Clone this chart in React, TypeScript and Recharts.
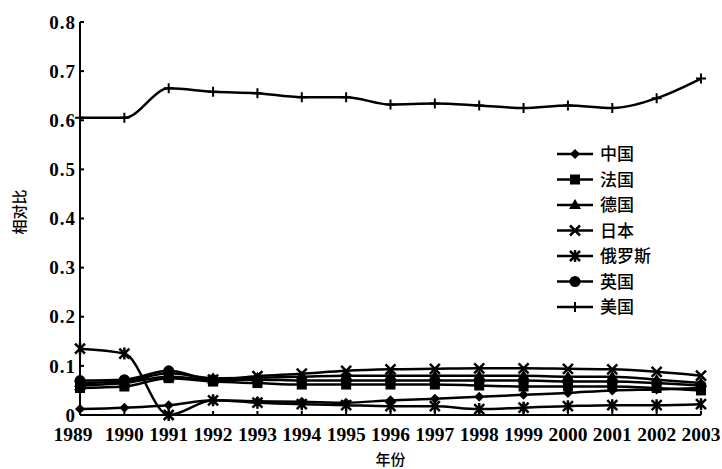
import React from "react";
import { LineChart, Line, XAxis, YAxis } from "recharts";

const years = ["1989", "1990", "1991", "1992", "1993", "1994", "1995", "1996", "1997", "1998", "1999", "2000", "2001", "2002", "2003"];

const china = [0.012, 0.015, 0.02, 0.03, 0.028, 0.027, 0.025, 0.03, 0.033, 0.037, 0.041, 0.045, 0.05, 0.052, 0.055];
const france = [0.055, 0.058, 0.075, 0.068, 0.065, 0.062, 0.062, 0.062, 0.062, 0.06, 0.058, 0.058, 0.058, 0.055, 0.05];
const germany = [0.065, 0.068, 0.085, 0.075, 0.076, 0.078, 0.08, 0.08, 0.08, 0.08, 0.08, 0.078, 0.078, 0.072, 0.065];
const japan = [0.06, 0.065, 0.078, 0.072, 0.079, 0.084, 0.09, 0.093, 0.094, 0.095, 0.095, 0.094, 0.093, 0.088, 0.08];
const russia = [0.135, 0.125, 0, 0.03, 0.025, 0.022, 0.02, 0.018, 0.018, 0.012, 0.015, 0.018, 0.02, 0.02, 0.022];
const uk = [0.07, 0.072, 0.09, 0.072, 0.072, 0.07, 0.07, 0.07, 0.07, 0.07, 0.07, 0.068, 0.068, 0.065, 0.06];
const usa = [0.605, 0.605, 0.665, 0.658, 0.655, 0.647, 0.647, 0.632, 0.634, 0.63, 0.625, 0.63, 0.625, 0.645, 0.685];

const yTicks = [0, 0.1, 0.2, 0.3, 0.4, 0.5, 0.6, 0.7, 0.8];

const data = years.map((y, i) => ({
  year: y,
  china: china[i],
  france: france[i],
  germany: germany[i],
  japan: japan[i],
  russia: russia[i],
  uk: uk[i],
  usa: usa[i],
}));

// marker shapes, drawn around (cx, cy)
const mark = (kind: string, cx: number, cy: number, key?: any) => {
  const c = "#000";
  switch (kind) {
    case "diamond":
      return <path key={key} d={`M${cx},${cy - 5}L${cx + 5},${cy}L${cx},${cy + 5}L${cx - 5},${cy}Z`} fill={c} />;
    case "square":
      return <rect key={key} x={cx - 5} y={cy - 5} width={10} height={10} fill={c} />;
    case "triangle":
      return <path key={key} d={`M${cx},${cy - 6}L${cx + 6},${cy + 4}L${cx - 6},${cy + 4}Z`} fill={c} />;
    case "cross":
      return (
        <path key={key} d={`M${cx - 5},${cy - 5}L${cx + 5},${cy + 5}M${cx + 5},${cy - 5}L${cx - 5},${cy + 5}`} stroke={c} strokeWidth={2.5} />
      );
    case "star":
      return (
        <path
          key={key}
          d={`M${cx - 5},${cy - 5}L${cx + 5},${cy + 5}M${cx + 5},${cy - 5}L${cx - 5},${cy + 5}M${cx},${cy - 6}L${cx},${cy + 6}`}
          stroke={c}
          strokeWidth={2.5}
        />
      );
    case "circle":
      return <circle key={key} cx={cx} cy={cy} r={5.5} fill={c} />;
    default:
      return (
        <path key={key} d={`M${cx - 5},${cy}L${cx + 5},${cy}M${cx},${cy - 5}L${cx},${cy + 5}`} stroke={c} strokeWidth={2} />
      );
  }
};

const series = [
  { key: "china", name: "中国", kind: "diamond" },
  { key: "france", name: "法国", kind: "square" },
  { key: "germany", name: "德国", kind: "triangle" },
  { key: "japan", name: "日本", kind: "cross" },
  { key: "russia", name: "俄罗斯", kind: "star" },
  { key: "uk", name: "英国", kind: "circle" },
  { key: "usa", name: "美国", kind: "plus" },
];

const LegendBox = () => (
  <svg width={160} height={190} style={{ position: "absolute", left: 553, top: 142, overflow: "visible" }}>
    {series.map((s, i) => {
      const y = 12 + i * 25.5;
      return (
        <g key={s.key}>
          <line x1={4} y1={y} x2={40} y2={y} stroke="#000" strokeWidth={2.5} />
          {mark(s.kind, 22, y)}
          <text x={47} y={y + 6} fontSize={17} fontFamily="Noto Sans CJK SC" fontWeight={500} fill="#000">
            {s.name}
          </text>
        </g>
      );
    })}
  </svg>
);

const YLabel = () => (
  <text
    x={18}
    y={212}
    transform="rotate(-90 18 212)"
    textAnchor="middle"
    dominantBaseline="central"
    fontSize={15}
    fontFamily="Noto Sans CJK SC"
    fontWeight={500}
    fill="#000"
  >
    相对比
  </text>
);

const tickFont = { fill: "#000", fontFamily: "Liberation Serif", fontWeight: 600 };

const XTick = (p: any) => (
  <text
    x={p.x + (p.index === 0 ? -7 : 0)}
    y={p.y + 26}
    textAnchor="middle"
    fontSize={19.5}
    {...tickFont}
  >
    {p.payload.value}
  </text>
);

const App = () => {
  return (
    <div style={{ position: "absolute", left: 0, top: 0, width: 722, height: 469, background: "#fff" }}>
      <LineChart width={722} height={469} data={data} margin={{ top: 22, right: 21, left: 34, bottom: 4 }}>
        <XAxis
          dataKey="year"
          interval={0}
          tickSize={-4}
          tickMargin={4}
          stroke="#000"
          strokeWidth={2}
          height={50}
          tick={<XTick />}
          label={{ value: "年份", position: "insideBottom", offset: 0, fill: "#000", fontSize: 15, fontFamily: "Noto Sans CJK SC", fontWeight: 500 }}
        />
        <YAxis
          domain={[0, 0.8]}
          ticks={yTicks}
          interval={0}
          width={46}
          tickSize={-4}
          tickMargin={8}
          stroke="#000"
          strokeWidth={2}
          tick={{ ...tickFont, fontSize: 19, letterSpacing: 1 }}
          label={<YLabel />}
        />
        {series.map((s) => (
          <Line
            key={s.key}
            type="monotone"
            dataKey={s.key}
            name={s.name}
            stroke="#000"
            strokeWidth={2.5}
            isAnimationActive={false}
            dot={(p: any) => mark(s.kind, p.cx, p.cy, `${s.key}-${p.index}`)}
            activeDot={false}
          />
        ))}
      </LineChart>
      <LegendBox />
    </div>
  );
};

export default App;
